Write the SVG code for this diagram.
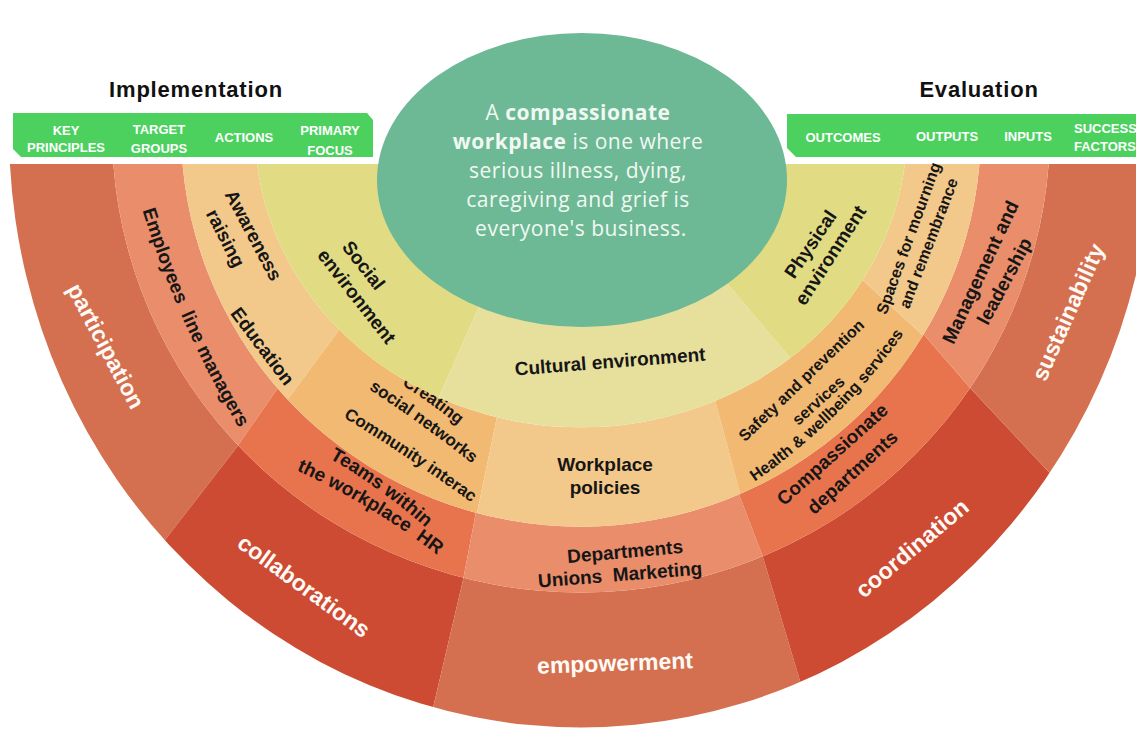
<svg xmlns="http://www.w3.org/2000/svg" width="1136" height="729" viewBox="0 0 1136 729">
<style>
  .t{font-family:"Liberation Sans",Arial,Helvetica,sans-serif;font-weight:700;text-anchor:middle}
  .w{font-size:23px;fill:#fffaf6}
  .k{font-size:19px;fill:#161616}
  .c{font-size:17px;fill:#161616}
  .s{font-size:16px;fill:#161616}
  .hd{font-size:13px;fill:#ffffff}
  .ttl{font-size:22px;fill:#111111;letter-spacing:0.8px}
  .core{font-family:"Open Sans","Liberation Sans",sans-serif;font-size:21px;fill:#f1f8f2;text-anchor:middle;letter-spacing:0.5px}
  .p1{fill:#d4704f} .p2{fill:#ce4b33}
  .g1{fill:#e98d6a} .g2{fill:#e8744d}
  .a1{fill:#f3c98b} .a2{fill:#f1b972}
  .f1{fill:#e1dc83} .f2{fill:#e7e09d}
  .band{fill:#4cd15f}
</style>
<defs>
  <!-- ring bands, all centred on (581,130) and cut flat at y=164 -->
  <clipPath id="ring-principles"><path d="M9.9 164 A572 597 0 0 0 1152.1 164 L1048.7 164 A469 463 0 0 1 113.3 164 Z"/></clipPath>
  <clipPath id="ring-groups"><path d="M113.3 164 A469 463 0 0 0 1048.7 164 L979.5 164 A400 397 0 0 1 182.5 164 Z"/></clipPath>
  <clipPath id="ring-actions"><path d="M182.5 164 A400 397 0 0 0 979.5 164 L904.9 164 A326 297 0 0 1 257.1 164 Z"/></clipPath>
  <clipPath id="ring-focus"><path d="M257.1 164 A326 297 0 0 0 904.9 164 Z"/></clipPath>
  <!-- baselines for curved labels -->
  <path id="p-employees" d="M129.4 166.6 L141 205 Q177 325 242 433 L262.6 467.3"/>
  <path id="p-teams" d="M294.3 438 L329 458 Q381 488 426 528 L455.9 554.6"/>
  <path id="p-hr" d="M261.6 454.3 L298 471 Q372 505 436 554 L467.8 578.3"/>
  <path id="p-creating" d="M368 364 L402 385 Q431 403 458 425 L489 450"/>
  <path id="p-social" d="M333.4 366.2 L367 388 Q421 423 474 465 L505.4 489.8"/>
  <path id="p-community" d="M308.8 395.8 L343 417 Q409 457 472 503 L504.3 526.6"/>
  <path id="p-health" d="M724.2 503 L757 480 Q843.5 419.4 902 336 L925 303.3"/>
</defs>

<rect width="1136" height="729" fill="#ffffff"/>

<!-- key principles (outer ring) -->
<g id="principles">
  <g id="participation">
    <polygon class="p1" clip-path="url(#ring-principles)" points="456,164 21,726 -60,760 -60,164"/>
    <text class="t w" transform="translate(106,346) rotate(62)" y="8">participation</text>
  </g>
  <g id="collaborations">
    <polygon class="p2" clip-path="url(#ring-principles)" points="456,164 560.5,164 418,772 21,726"/>
    <text class="t w" transform="translate(304,586) rotate(36)" y="8">collaborations</text>
  </g>
  <g id="empowerment">
    <polygon class="p1" clip-path="url(#ring-principles)" points="560.5,164 645,164 822,754 418,772"/>
    <text class="t w" transform="translate(615,663) rotate(-2)" y="8">empowerment</text>
  </g>
  <g id="coordination">
    <polygon class="p2" clip-path="url(#ring-principles)" points="645,164 760,164 1122,550 822,754"/>
    <text class="t w" transform="translate(912,548) rotate(-40)" y="8">coordination</text>
  </g>
  <g id="sustainability">
    <polygon class="p1" clip-path="url(#ring-principles)" points="760,164 1220,164 1220,600 1122,550"/>
    <text class="t w" transform="translate(1068,312) rotate(-66)" y="8">sustainability</text>
  </g>
</g>

<!-- target groups -->
<g id="groups">
  <g id="employees">
    <polygon class="g1" clip-path="url(#ring-groups)" points="433,164 194,509 -60,600 -60,164"/>
    <text class="t k"><textPath href="#p-employees" startOffset="50%">Employees&#160; line managers</textPath></text>
  </g>
  <g id="teams">
    <polygon class="g2" clip-path="url(#ring-groups)" points="433,164 542,164 457,612 194,509"/>
    <text class="t k"><textPath href="#p-teams" startOffset="50%">Teams within</textPath></text>
    <text class="t k"><textPath href="#p-hr" startOffset="50%">the workplace&#160; HR</textPath></text>
  </g>
  <g id="departments">
    <polygon class="g1" clip-path="url(#ring-groups)" points="542,164 612,164 775,588 457,612"/>
    <text class="t k" transform="translate(625,551) rotate(-5)" y="7">Departments</text>
    <text class="t k" transform="translate(620,574) rotate(-4.5)" y="7">Unions&#160; Marketing</text>
  </g>
  <g id="compassionate-departments">
    <polygon class="g2" clip-path="url(#ring-groups)" points="612,164 776,164 1010,434 775,588"/>
    <text class="t k" transform="translate(832,454) rotate(-42)" y="7">Compassionate</text>
    <text class="t k" transform="translate(852,472) rotate(-42)" y="7">departments</text>
  </g>
  <g id="management">
    <polygon class="g1" clip-path="url(#ring-groups)" points="776,164 1220,164 1220,520 1010,434"/>
    <text class="t k" transform="translate(980,272) rotate(-65)" y="7">Management and</text>
    <text class="t k" transform="translate(1004,281) rotate(-62)" y="7">leadership</text>
  </g>
</g>

<!-- actions -->
<g id="actions">
  <g id="awareness">
    <polygon class="a1" clip-path="url(#ring-actions)" points="462,164 254,445 -60,445 -60,164"/>
    <text class="t k" transform="translate(254,235) rotate(62)" y="7">Awareness</text>
    <text class="t k" transform="translate(226,238) rotate(63)" y="7">raising</text>
    <text class="t k" transform="translate(263,346) rotate(53)" y="7">Education</text>
  </g>
  <g id="social-networks">
    <polygon class="a2" clip-path="url(#ring-actions)" points="462,164 549.7,164 467,561 254,445"/>
    <text class="t c"><textPath href="#p-creating" startOffset="50%">Creating</textPath></text>
    <text class="t c"><textPath href="#p-social" startOffset="50%">social networks</textPath></text>
    <text class="t c"><textPath href="#p-community" startOffset="50%">Community interac</textPath></text>
  </g>
  <g id="workplace-policies">
    <polygon class="a1" clip-path="url(#ring-actions)" points="549.7,164 651.6,164 755,549 467,561"/>
    <text class="t k" x="605" y="471">Workplace</text>
    <text class="t k" x="605" y="494">policies</text>
  </g>
  <g id="services">
    <polygon class="a2" clip-path="url(#ring-actions)" points="651.6,164 736,164 965,374 755,549"/>
    <text class="t s" transform="translate(801,380) rotate(-44)" y="6">Safety and prevention</text>
    <text class="t s" transform="translate(818,400) rotate(-42)" y="6">services</text>
    <text class="t s"><textPath href="#p-health" startOffset="50%">Health &amp; wellbeing services</textPath></text>
  </g>
  <g id="spaces">
    <polygon class="a1" clip-path="url(#ring-actions)" points="736,164 1220,164 1220,400 965,374"/>
    <text class="t s" transform="translate(908,238) rotate(-70)" y="6">Spaces for mourning</text>
    <text class="t s" transform="translate(928,243) rotate(-69)" y="6">and remembrance</text>
  </g>
</g>

<!-- primary focus -->
<g id="focus">
  <g id="social-environment">
    <polygon class="f1" clip-path="url(#ring-focus)" points="542,164 356,585 -60,585 -60,164"/>
    <text class="t k" transform="translate(364,265) rotate(52)" y="7">Social</text>
    <text class="t k" transform="translate(357,296) rotate(52)" y="7">environment</text>
  </g>
  <g id="cultural-environment">
    <polygon class="f2" clip-path="url(#ring-focus)" points="542,164 626,164 940,535 356,585"/>
    <text class="t k" transform="translate(610,361) rotate(-4.5)" y="7">Cultural environment</text>
  </g>
  <g id="physical-environment">
    <polygon class="f1" clip-path="url(#ring-focus)" points="626,164 1220,164 1220,535 940,535"/>
    <text class="t k" transform="translate(810,244) rotate(-56)" y="7">Physical</text>
    <text class="t k" transform="translate(830,255) rotate(-57)" y="7">environment</text>
  </g>
</g>

<!-- central definition -->
<g id="definition">
  <ellipse cx="582" cy="180" rx="205" ry="147" fill="#6db895"/>
  <text class="core">
    <tspan x="581" y="120">A <tspan font-weight="700">compassionate</tspan></tspan>
    <tspan x="581" y="149"><tspan font-weight="700">workplace</tspan> is one where</tspan>
    <tspan x="581" y="178">serious illness, dying,</tspan>
    <tspan x="581" y="207">caregiving and grief is</tspan>
    <tspan x="581" y="236">everyone's business.</tspan>
  </text>
</g>

<!-- implementation header -->
<g id="implementation">
  <text class="t ttl" x="196" y="97">Implementation</text>
  <polygon class="band" points="13,113 367,113 373,120 373,157 21,157 13,149"/>
  <text class="t hd"><tspan x="66" y="135">KEY</tspan><tspan x="66" y="152">PRINCIPLES</tspan></text>
  <text class="t hd"><tspan x="159" y="134">TARGET</tspan><tspan x="159" y="153">GROUPS</tspan></text>
  <text class="t hd" x="244" y="142">ACTIONS</text>
  <text class="t hd"><tspan x="330" y="135">PRIMARY</tspan><tspan x="330" y="155">FOCUS</tspan></text>
</g>

<!-- evaluation header -->
<g id="evaluation">
  <text class="t ttl" x="979" y="97">Evaluation</text>
  <polygon class="band" points="787,114 1140,114 1140,157 796,157 787,148"/>
  <text class="t hd" x="843" y="142">OUTCOMES</text>
  <text class="t hd" x="947" y="141">OUTPUTS</text>
  <text class="t hd" x="1028" y="141">INPUTS</text>
  <text class="t hd" style="text-anchor:start"><tspan x="1074" y="133">SUCCESS</tspan><tspan x="1074" y="151">FACTORS</tspan></text>
</g>
</svg>
